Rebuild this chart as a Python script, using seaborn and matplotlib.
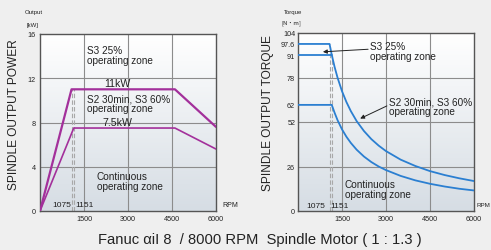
import numpy as np
import pandas as pd
import matplotlib
matplotlib.use("Agg")
import matplotlib.pyplot as plt
from matplotlib.colors import LinearSegmentedColormap
import seaborn as sns

# power curves [kW]
rpm_11 = [0, 1075, 4600, 6000]
kw_11 = [0, 11, 11, 7.6]
rpm_75 = [0, 1151, 4600, 6000]
kw_75 = [0, 7.5, 7.5, 5.6]

# torque curves [N-m]
rpm_t_top = [0, 1075, 1150, 1250, 1350, 1500, 1650, 1800, 2000, 2250, 2500, 2750,
             3000, 3500, 4000, 4500, 5000, 5500, 6000]
t_top = [97.6, 97.6, 91.3, 84, 77.8, 70, 63.7, 58.4, 52.5, 46.7, 42, 38.2,
         35, 30, 26.3, 23.3, 21, 19.1, 17.5]
rpm_t_mid = [0, 1151]
t_mid = [91, 91]
rpm_t_low = [0, 1151, 1250, 1350, 1500, 1650, 1800, 2000, 2250, 2500, 2750,
             3000, 3500, 4000, 4500, 5000, 5500, 6000]
t_low = [62, 62, 57.3, 53, 47.7, 43.4, 39.8, 35.8, 31.8, 28.6, 26,
         23.9, 20.5, 17.9, 15.9, 14.3, 13, 12]

x_ticks = [1500, 3000, 4500, 6000]
p_ticks = [0, 4, 8, 12, 16]
t_ticks = [0, 26, 52, 62, 78, 91, 97.6, 104]
t_tick_labels = ["0", "26", "52", "62", "78", "91", "97.6", "104"]
t_grid = [26, 52, 78]
knee_rpm = [1075, 1151]

sns.set_style("white")
plt.rcParams['font.family'] = ['Liberation Sans', 'DejaVu Sans']

MAG = "#a3309b"
BLUE = "#2b7fd1"
GRID = "#8c8c8c"
TXT = "#222222"
DASH = "#a8a8a8"

fig = plt.figure(figsize=(4.91, 2.51), dpi=100)
fig.patch.set_facecolor("#efefef")
ax1 = fig.add_axes([40/491, 1-212/251, 176/491, 177/251])
ax2 = fig.add_axes([298/491, 1-212/251, 176/491, 178/251])

grad = LinearSegmentedColormap.from_list("bg", ["#ffffff", "#d6dde4"])


def setup(ax, ymax):
    # white at top, blue-grey at bottom
    ax.imshow(np.linspace(0, 1, 100).reshape(-1, 1), cmap=grad, aspect="auto",
              extent=[0, 6000, 0, ymax], origin="upper", zorder=0)
    ax.set_xlim(0, 6000)
    ax.set_ylim(0, ymax)
    for x in x_ticks[:-1]:
        ax.axvline(x, color=GRID, lw=0.8, zorder=1)
    for s in ax.spines.values():
        s.set_color("#555555")
        s.set_linewidth(1)
    ax.set_xticks(x_ticks)
    ax.tick_params(length=0, labelsize=5.2, colors=TXT, pad=3)


# ---- power chart
setup(ax1, 16)
for y in [4, 8, 12]:
    ax1.axhline(y, color=GRID, lw=0.8, zorder=1)
ax1.set_yticks(p_ticks)
for r in knee_rpm:
    ax1.plot([r, r], [0, 11], color=DASH, lw=0.8, ls=(0, (4, 2)), zorder=2)
sns.lineplot(x=rpm_11, y=kw_11, ax=ax1, color=MAG, lw=1.6, estimator=None, sort=False, zorder=3)
sns.lineplot(x=rpm_75, y=kw_75, ax=ax1, color=MAG, lw=1.2, estimator=None, sort=False, zorder=3)
ax1.set_xticks(x_ticks)
ax1.set_xlabel("")
ax1.set_ylabel("")

ax1.text(1602, 14.1, "S3 25%\noperating zone", fontsize=7.2, va="center", linespacing=0.95, color=TXT)
ax1.text(1602, 9.73, "S2 30min, S3 60%\noperating zone", fontsize=7.2, va="center", linespacing=0.95, color=TXT)
ax1.text(1943, 2.73, "Continuous\noperating zone", fontsize=7.2, va="center", linespacing=0.95, color=TXT)
ax1.text(2640, 11.55, "11kW", fontsize=7.6, ha="center", va="center", color=TXT)
ax1.text(2625, 8.0, "7.5kW", fontsize=7.6, ha="center", va="center", color=TXT)
ax1.text(750, 0.55, "1075", fontsize=6, ha="center", va="center", color=TXT)
ax1.text(1530, 0.55, "1151", fontsize=6, ha="center", va="center", color=TXT)
ax1.text(6480, 0.6, "RPM", fontsize=5, ha="center", va="center", color=TXT, clip_on=False)

fig.text(34/491, 1-12.5/251, "Output", fontsize=4.3, ha="center", va="center", color=TXT)
fig.text(33/491, 1-25/251, "[kW]", fontsize=4.3, ha="center", va="center", color=TXT)
fig.text(14/491, 1-115/251, "SPINDLE OUTPUT POWER", fontsize=8.6, rotation=90,
         ha="center", va="center", color=TXT)

# ---- torque chart
setup(ax2, 104)
for y in t_grid:
    ax2.axhline(y, color=GRID, lw=0.8, zorder=1)
ax2.set_yticks(t_ticks)
ax2.set_yticklabels(t_tick_labels)
ax2.tick_params(axis="y", pad=2)
ax2.plot([1075, 1075], [0, 97.6], color=DASH, lw=0.8, ls=(0, (4, 2)), zorder=2)
ax2.plot([1151, 1151], [0, 91], color=DASH, lw=0.8, ls=(0, (4, 2)), zorder=2)
sns.lineplot(x=rpm_t_top, y=t_top, ax=ax2, color=BLUE, lw=1.3, estimator=None, sort=False, zorder=3)
sns.lineplot(x=rpm_t_mid, y=t_mid, ax=ax2, color=BLUE, lw=1.3, estimator=None, sort=False, zorder=3)
sns.lineplot(x=rpm_t_low, y=t_low, ax=ax2, color=BLUE, lw=1.3, estimator=None, sort=False, zorder=3)
ax2.set_xticks(x_ticks)
ax2.set_xlabel("")
ax2.set_ylabel("")

arrow = dict(arrowstyle="-|>", color="#222222", lw=0.7, mutation_scale=6, shrinkA=0, shrinkB=0)
ax2.text(2455, 93.5, "S3 25%\noperating zone", fontsize=7.2, va="center", linespacing=0.95, color=TXT)
ax2.annotate("", xy=(850, 93), xytext=(2390, 94.5), arrowprops=arrow)
ax2.text(3102, 61.4, "S2 30min, S3 60%\noperating zone", fontsize=7.2, va="center", linespacing=0.95, color=TXT)
ax2.annotate("", xy=(2120, 54), xytext=(3030, 61.4), arrowprops=arrow)
ax2.text(1602, 12.9, "Continuous\noperating zone", fontsize=7.2, va="center", linespacing=0.95, color=TXT)
ax2.text(620, 3.2, "1075", fontsize=6, ha="center", va="center", color=TXT)
ax2.text(1430, 3.2, "1151", fontsize=6, ha="center", va="center", color=TXT)
ax2.text(6100, 3.8, "RPM", fontsize=4.5, ha="left", va="center", color=TXT, clip_on=False)

fig.text(293/491, 1-12.5/251, "Torque", fontsize=4.3, ha="center", va="center", color=TXT)
fig.text(291/491, 1-23/251, "[N・m]", fontsize=4.3, ha="center", va="center", color=TXT,
         family=["Noto Sans CJK JP", "DejaVu Sans"])
fig.text(268/491, 1-113/251, "SPINDLE OUTPUT TORQUE", fontsize=8.6, rotation=90,
         ha="center", va="center", color=TXT)

fig.text(260/491, 1-240/251, "Fanuc αiI 8  / 8000 RPM  Spindle Motor ( 1 : 1.3 )",
         fontsize=10.6, ha="center", va="center", color="#222222")

fig.savefig("out.png", dpi=100, facecolor=fig.get_facecolor())
